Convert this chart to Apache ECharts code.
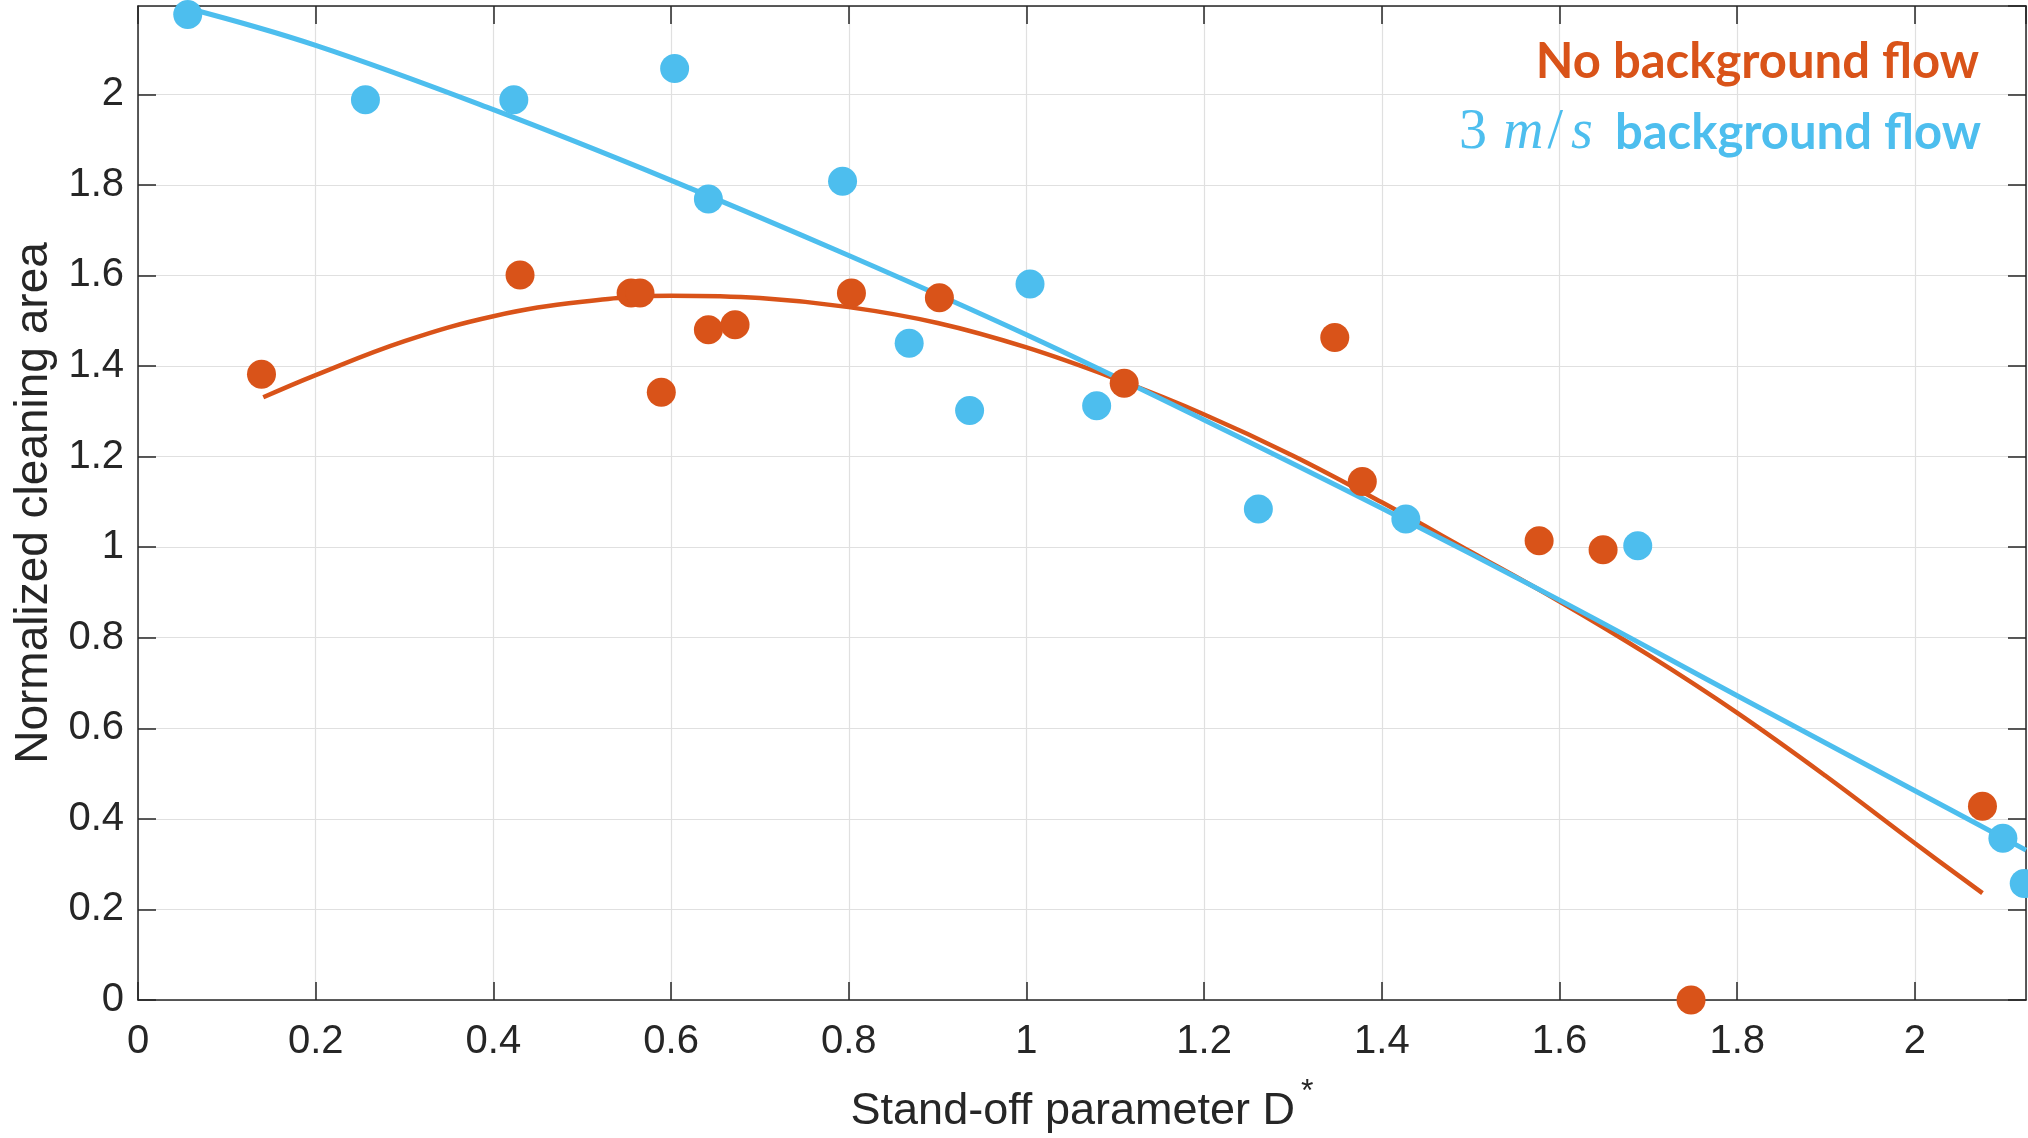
<!DOCTYPE html>
<html>
<head>
<meta charset="utf-8">
<script src="https://cdn.jsdelivr.net/npm/echarts@6/dist/echarts.min.js"></script>
<style>
html,body{margin:0;padding:0;background:#fff;}
#chart{width:2028px;height:1138px;}
</style>
</head>
<body>
<div id="chart"></div>
<script>
// ---- data ----
const blueX = [0.056, 0.256, 0.423, 0.604, 0.642, 0.793, 0.868, 0.936, 1.004, 1.079, 1.261, 1.427, 1.688, 2.099, 2.123];
const blueY = [2.176, 1.988, 1.988, 2.057, 1.769, 1.808, 1.450, 1.302, 1.581, 1.312, 1.084, 1.062, 1.003, 0.357, 0.257];

const orangeX = [0.139, 0.430, 0.555, 0.565, 0.589, 0.642, 0.672, 0.803, 0.902, 1.110, 1.347, 1.378, 1.577, 1.649, 1.748, 2.076];
const orangeY = [1.382, 1.601, 1.561, 1.561, 1.342, 1.480, 1.491, 1.561, 1.551, 1.362, 1.463, 1.145, 1.014, 0.994, 0.000, 0.428];

// fitted curves
const blueFitX = [0.056, 0.2, 0.4, 0.6, 0.8, 1.0, 1.2, 1.4, 1.6, 1.8, 2.0, 2.125];
const blueFitY = [2.190, 2.108, 1.966, 1.810, 1.644, 1.469, 1.281, 1.086, 0.883, 0.672, 0.462, 0.331];

const orangeFitX = [0.141, 0.2, 0.3, 0.4, 0.5, 0.6, 0.7, 0.8, 0.9, 1.0, 1.1, 1.2, 1.3, 1.4, 1.5, 1.6, 1.7, 1.8, 1.9, 2.0, 2.076];
const orangeFitY = [1.331, 1.380, 1.455, 1.510, 1.542, 1.555, 1.550, 1.530, 1.495, 1.441, 1.372, 1.293, 1.202, 1.099, 0.990, 0.880, 0.762, 0.634, 0.494, 0.346, 0.236];

const xRange = [0, 2.125];
const yRange = [0, 2.195];
const tickStep = 0.2;

const xLabel = 'Stand-off parameter D';
const yLabel = 'Normalized cleaning area';
const legendOrange = 'No background flow';
const legendBlue = ['3', 'm', '/', 's', 'background flow'];

// ---- styling ----
const ORANGE = '#D95319';
const BLUE = '#4DBEEE';
const AX = '#262626';
const GRID = '#e0e0e0';

const zip = (xs, ys) => xs.map((x, i) => [x, ys[i]]);

const chart = echarts.init(document.getElementById('chart'));

const baseAxis = {
  type: 'value',
  interval: tickStep,
  axisLine: { show: true, onZero: false, lineStyle: { color: AX, width: 1.5 } },
  axisTick: { show: true, inside: true, length: 18, lineStyle: { color: AX, width: 1.5 } },
};

chart.setOption({
  animation: false,
  backgroundColor: '#ffffff',
  grid: { left: 138, right: 2, top: 6, bottom: 138, containLabel: false, outerBoundsMode: 'none' },
  xAxis: [
    Object.assign({}, baseAxis, {
      min: xRange[0], max: xRange[1], position: 'bottom',
      axisLabel: { show: true, showMaxLabel: false, margin: 22, fontSize: 40, color: AX, fontFamily: 'Liberation Sans' },
      splitLine: { show: true, lineStyle: { color: GRID, width: 1.2 } },
      name: xLabel + '{s|*}',
      nameLocation: 'middle',
      nameGap: 76,
      nameTextStyle: {
        fontSize: 45, lineHeight: 72, color: AX, fontFamily: 'Liberation Sans',
        rich: { s: { fontSize: 32, lineHeight: 32, color: AX, fontFamily: 'Liberation Sans', verticalAlign: 'top', padding: [0, 0, 0, 6] } }
      }
    }),
    Object.assign({}, baseAxis, {
      min: xRange[0], max: xRange[1], position: 'top',
      axisLabel: { show: false }, splitLine: { show: false }
    })
  ],
  yAxis: [
    Object.assign({}, baseAxis, {
      min: yRange[0], max: yRange[1], position: 'left',
      axisLabel: { show: true, showMaxLabel: false, margin: 14, fontSize: 40, color: AX, fontFamily: 'Liberation Sans' },
      splitLine: { show: true, lineStyle: { color: GRID, width: 1.2 } },
      name: yLabel,
      nameLocation: 'middle',
      nameGap: 81,
      nameTextStyle: { fontSize: 46, color: AX, fontFamily: 'Liberation Sans' }
    }),
    Object.assign({}, baseAxis, {
      min: yRange[0], max: yRange[1], position: 'right',
      axisLabel: { show: false }, splitLine: { show: false }
    })
  ],
  series: [
    {
      type: 'line', name: 'fit0', data: zip(orangeFitX, orangeFitY),
      smooth: 0.4, showSymbol: false, symbol: 'none',
      lineStyle: { color: ORANGE, width: 4.5 }, z: 3
    },
    {
      type: 'line', name: 'fit3', data: zip(blueFitX, blueFitY),
      smooth: 0.4, showSymbol: false, symbol: 'none',
      lineStyle: { color: BLUE, width: 5 }, z: 3
    },
    {
      type: 'scatter', name: legendOrange, data: zip(orangeX, orangeY),
      symbol: 'circle', symbolSize: 29, itemStyle: { color: ORANGE, opacity: 1 }, z: 4
    },
    {
      type: 'scatter', name: 'blue', data: zip(blueX, blueY),
      symbol: 'circle', symbolSize: 29, itemStyle: { color: BLUE, opacity: 1 }, z: 4, clip: false
    }
  ],
  graphic: [
    {
      type: 'text', z: 10,
      style: {
        x: 1979, y: 62, text: legendOrange,
        fill: ORANGE, fontFamily: 'Lato', fontWeight: 'bold', fontSize: 49,
        align: 'right', verticalAlign: 'middle'
      }
    },
    {
      type: 'text', z: 10,
      style: {
        x: 1981, y: 133,
        text: '{n|' + legendBlue[0] + '}{m|' + legendBlue[1] + '}{sl|' + legendBlue[2] + '}{s|' + legendBlue[3] + '}{b|' + legendBlue[4] + '}',
        fill: BLUE, align: 'right', verticalAlign: 'middle',
        rich: {
          n: { fill: BLUE, fontFamily: 'Liberation Serif', fontSize: 56, padding: [0, 16, 0, 0] },
          m: { fill: BLUE, fontFamily: 'Liberation Serif', fontStyle: 'italic', fontSize: 56, padding: [0, 4, 0, 0] },
          sl: { fill: BLUE, fontFamily: 'Liberation Serif', fontSize: 56, padding: [0, 8, 0, 0] },
          s: { fill: BLUE, fontFamily: 'Liberation Serif', fontStyle: 'italic', fontSize: 56, padding: [0, 22, 0, 0] },
          b: { fill: BLUE, fontFamily: 'Lato', fontWeight: 'bold', fontSize: 49 }
        }
      }
    }
  ]
});
</script>
</body>
</html>
